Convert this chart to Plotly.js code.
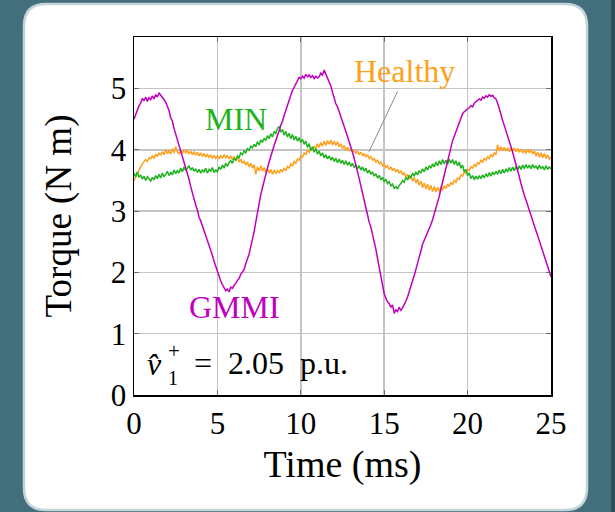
<!DOCTYPE html>
<html>
<head>
<meta charset="utf-8">
<script src="https://cdn.plot.ly/plotly-3.0.1.min.js"></script>
<style>html,body{margin:0;padding:0;background:#426f7b;}#chart{width:615px;height:512px;}</style>
</head>
<body>
<div id="chart"></div>
<script>
// sample spacing of the traces (ms)
const dt = 0.1;

const gmmi = [
4.50,4.58,4.63,4.72,4.76,4.84,4.80,4.86,4.79,4.85,
4.82,4.88,4.83,4.90,4.86,4.93,4.89,4.86,4.82,4.78,
4.70,4.64,4.52,4.47,4.35,4.26,4.15,4.08,3.97,3.91,
3.80,3.72,3.62,3.52,3.40,3.29,3.20,3.10,3.02,2.90,
2.84,2.76,2.68,2.60,2.52,2.46,2.35,2.28,2.18,2.10,
2.01,1.92,1.86,1.80,1.74,1.70,1.73,1.68,1.76,1.74,
1.79,1.82,1.87,1.90,1.97,2.01,2.05,2.14,2.22,2.30,
2.42,2.52,2.66,2.82,2.98,3.15,3.27,3.38,3.50,3.61,
3.70,3.80,3.90,3.99,4.07,4.15,4.22,4.31,4.40,4.46,
4.56,4.64,4.72,4.80,4.90,4.97,5.02,5.08,5.13,5.18,
5.16,5.20,5.17,5.23,5.19,5.22,5.18,5.21,5.16,5.20,
5.17,5.19,5.25,5.22,5.30,5.24,5.18,5.12,5.04,4.94,
4.84,4.75,4.70,4.61,4.55,4.45,4.38,4.30,4.22,4.14,
4.04,3.96,3.86,3.77,3.64,3.53,3.40,3.28,3.17,3.05,
2.94,2.82,2.74,2.62,2.52,2.38,2.23,2.08,1.94,1.80,
1.65,1.58,1.52,1.49,1.43,1.47,1.33,1.39,1.36,1.43,
1.38,1.42,1.47,1.53,1.60,1.68,1.78,1.87,1.95,2.05,
2.14,2.24,2.35,2.46,2.52,2.58,2.64,2.70,2.78,2.86,
2.95,3.03,3.12,3.24,3.36,3.48,3.58,3.70,3.82,3.95,
4.05,4.15,4.22,4.30,4.38,4.46,4.53,4.59,4.62,4.64,
4.66,4.69,4.72,4.70,4.76,4.78,4.80,4.83,4.81,4.86,
4.84,4.88,4.86,4.90,4.87,4.89,4.85,4.83,4.76,4.68,
4.58,4.48,4.40,4.31,4.22,4.13,4.05,3.96,3.87,3.78,
3.67,3.56,3.45,3.34,3.26,3.18,3.09,3.01,2.93,2.85,
2.77,2.68,2.60,2.52,2.43,2.34,2.26,2.18,2.10,2.02,
1.93];

const minTorque = [
3.62,3.56,3.64,3.55,3.59,3.52,3.57,3.50,3.56,3.53,
3.49,3.55,3.51,3.58,3.53,3.60,3.54,3.62,3.56,3.60,
3.65,3.58,3.63,3.59,3.67,3.61,3.66,3.62,3.70,3.64,
3.72,3.66,3.70,3.74,3.67,3.71,3.65,3.69,3.63,3.68,
3.62,3.67,3.64,3.70,3.62,3.68,3.65,3.71,3.63,3.67,
3.64,3.72,3.68,3.75,3.70,3.78,3.73,3.79,3.82,3.78,
3.86,3.83,3.90,3.87,3.95,3.92,3.98,3.95,4.02,3.99,
4.06,4.03,4.09,4.05,4.13,4.08,4.16,4.12,4.19,4.15,
4.23,4.18,4.26,4.21,4.30,4.27,4.35,4.38,4.29,4.33,
4.24,4.30,4.21,4.27,4.18,4.25,4.16,4.22,4.14,4.20,
4.12,4.17,4.09,4.14,4.04,4.10,3.99,4.05,3.96,4.02,
3.93,3.98,3.90,3.95,3.87,3.92,3.85,3.90,3.83,3.88,
3.81,3.86,3.79,3.85,3.78,3.83,3.76,3.82,3.75,3.80,
3.73,3.78,3.71,3.76,3.69,3.74,3.67,3.72,3.65,3.70,
3.62,3.67,3.60,3.64,3.57,3.61,3.54,3.58,3.51,3.55,
3.48,3.52,3.45,3.48,3.41,3.44,3.37,3.40,3.36,3.42,
3.45,3.50,3.47,3.55,3.51,3.58,3.54,3.62,3.57,3.64,
3.59,3.66,3.62,3.69,3.64,3.72,3.67,3.74,3.70,3.77,
3.72,3.80,3.74,3.82,3.76,3.84,3.77,3.83,3.76,3.85,
3.78,3.84,3.76,3.82,3.74,3.80,3.70,3.75,3.64,3.68,
3.58,3.62,3.53,3.58,3.51,3.57,3.52,3.58,3.53,3.59,
3.54,3.61,3.56,3.63,3.57,3.64,3.59,3.65,3.60,3.67,
3.61,3.68,3.62,3.69,3.64,3.71,3.65,3.72,3.66,3.73,
3.67,3.74,3.68,3.75,3.69,3.76,3.70,3.75,3.69,3.76,
3.70,3.74,3.68,3.75,3.69,3.73,3.67,3.74,3.68,3.72,
3.69];

const healthy = [
3.50,3.56,3.62,3.68,3.72,3.77,3.80,3.84,3.81,3.87,
3.85,3.90,3.86,3.93,3.89,3.95,3.91,3.97,3.92,4.00,
3.94,3.98,3.93,4.02,3.95,4.05,3.97,3.93,3.99,3.94,
4.00,3.95,3.99,3.93,3.98,3.92,3.97,3.91,3.96,3.90,
3.95,3.89,3.94,3.88,3.93,3.87,3.92,3.86,3.91,3.86,
3.90,3.85,3.91,3.86,3.92,3.87,3.91,3.85,3.90,3.84,
3.89,3.83,3.87,3.80,3.85,3.78,3.82,3.75,3.80,3.72,
3.78,3.70,3.76,3.60,3.72,3.66,3.74,3.65,3.71,3.63,
3.69,3.62,3.68,3.60,3.67,3.61,3.66,3.62,3.68,3.64,
3.70,3.66,3.73,3.70,3.77,3.74,3.81,3.78,3.85,3.83,
3.90,3.88,3.95,3.92,3.99,3.96,4.03,3.99,4.06,4.02,
4.10,4.04,4.12,4.06,4.14,4.07,4.15,4.09,4.16,4.08,
4.14,4.07,4.13,4.05,4.10,4.02,4.07,3.99,4.04,3.98,
4.02,3.96,4.00,3.94,3.98,3.92,3.96,3.90,3.94,3.88,
3.92,3.86,3.89,3.83,3.86,3.80,3.83,3.77,3.80,3.74,
3.77,3.71,3.74,3.68,3.72,3.66,3.70,3.64,3.68,3.62,
3.66,3.59,3.63,3.55,3.60,3.52,3.57,3.49,3.55,3.46,
3.52,3.42,3.49,3.38,3.46,3.36,3.44,3.34,3.42,3.32,
3.40,3.31,3.39,3.32,3.40,3.34,3.41,3.37,3.44,3.40,
3.47,3.43,3.50,3.47,3.54,3.52,3.59,3.57,3.64,3.62,
3.68,3.66,3.72,3.70,3.76,3.73,3.79,3.77,3.83,3.80,
3.86,3.83,3.89,3.86,3.92,3.89,3.95,3.92,4.08,3.98,
4.05,3.99,4.04,3.98,4.03,3.97,4.04,3.98,4.03,3.97,
4.02,3.96,4.01,3.95,4.00,3.94,4.01,3.95,4.00,3.93,
3.98,3.90,3.96,3.88,3.95,3.87,3.94,3.86,3.92,3.85,
3.88];

const xTicks = [0, 5, 10, 15, 20, 25];
const yTicks = [0, 1, 2, 3, 4, 5];
const seriesNames = ["Healthy", "MIN", "GMMI"];
const seriesColors = ["#ffa01c", "#1db31d", "#c000c0"];

const time = gmmi.map((_, i) => +(i * dt).toFixed(2));

const W = 615, H = 512;
const M = {l: 134, r: 64, t: 37, b: 117};
const pw = W - M.l - M.r, ph = H - M.t - M.b;
const px = x => (x - M.l) / pw;
const py = y => (H - M.b - y) / ph;

function roundRect(x0, y0, x1, y1, r) {
  const X = px, Y = py;
  const rx = r / pw, ry = r / ph;
  return `M ${X(x0)+rx} ${Y(y0)} L ${X(x1)-rx} ${Y(y0)} Q ${X(x1)} ${Y(y0)} ${X(x1)} ${Y(y0)-ry} ` +
         `L ${X(x1)} ${Y(y1)+ry} Q ${X(x1)} ${Y(y1)} ${X(x1)-rx} ${Y(y1)} ` +
         `L ${X(x0)+rx} ${Y(y1)} Q ${X(x0)} ${Y(y1)} ${X(x0)} ${Y(y1)+ry} ` +
         `L ${X(x0)} ${Y(y0)-ry} Q ${X(x0)} ${Y(y0)} ${X(x0)+rx} ${Y(y0)} Z`;
}

const series = [healthy, minTorque, gmmi];
const traces = series.map((s, k) => ({
  x: time, y: s, type: "scatter", mode: "lines", name: seriesNames[k],
  line: {color: seriesColors[k], width: 1.5}, hoverinfo: "skip"
}));

const serif = "Liberation Serif";

const layout = {
  width: W, height: H,
  margin: M,
  paper_bgcolor: "#426f7b",
  plot_bgcolor: "white",
  showlegend: false,
  font: {family: serif, color: "black"},
  xaxis: {
    range: [0, 25], tickvals: xTicks, ticktext: xTicks.map(String),
    showgrid: true, gridcolor: "#c4c4c4", gridwidth: 1.5,
    showline: true, linecolor: "black", linewidth: 1.5, mirror: "ticks",
    ticks: "inside", ticklen: 5, tickcolor: "#707070", tickwidth: 1,
    tickfont: {size: 31, family: serif}, zeroline: false,
    title: {text: "Time (ms)", font: {size: 38, family: serif}, standoff: 10}
  },
  yaxis: {
    range: [0, 5.84], tickvals: yTicks, ticktext: yTicks.map(String),
    showgrid: true, gridcolor: "#c4c4c4", gridwidth: 1.5,
    showline: true, linecolor: "black", linewidth: 1.5, mirror: "ticks",
    ticks: "inside", ticklen: 5, tickcolor: "#707070", tickwidth: 1,
    tickfont: {size: 31, family: serif}, zeroline: false,
    title: {text: "Torque (N m)", font: {size: 37, family: serif}, standoff: 28}
  },
  shapes: [
    {type: "path", xref: "paper", yref: "paper", layer: "below",
     path: roundRect(24, 4, 587, 510, 22),
     fillcolor: "white", line: {color: "#c3d3d8", width: 2.5}},
    {type: "rect", xref: "paper", yref: "paper", layer: "below",
     x0: px(611), x1: px(615), y0: py(0), y1: py(512),
     fillcolor: "#2b4e58", line: {width: 0}},
    {type: "line", xref: "x", yref: "y", x0: 15.8, y0: 4.95, x1: 14.09, y1: 3.97,
     line: {color: "#8c8c8c", width: 1}}
  ],
  annotations: [
    {x: 16.2, y: 5.28, xref: "x", yref: "y", text: "Healthy", showarrow: false,
     font: {size: 32, color: seriesColors[0], family: serif}},
    {x: 6.1, y: 4.51, xref: "x", yref: "y", text: "MIN", showarrow: false,
     font: {size: 32, color: seriesColors[1], family: serif}},
    {x: 6.03, y: 1.43, xref: "x", yref: "y", text: "GMMI", showarrow: false,
     font: {size: 32, color: seriesColors[2], family: serif}},
    {x: 1.25, y: 0.5, xref: "x", yref: "y", text: "<i>v̂</i>", showarrow: false,
     font: {size: 32, color: "black", family: serif}},
    {x: 2.4, y: 0.72, xref: "x", yref: "y", text: "+", showarrow: false,
     font: {size: 21, color: "black", family: serif}},
    {x: 2.34, y: 0.27, xref: "x", yref: "y", text: "1", showarrow: false,
     font: {size: 20, color: "black", family: serif}},
    {x: 3.45, y: 0.52, xref: "x", yref: "y", xanchor: "left",
     text: "=\u00A0\u00A02.05\u00A0\u00A0p.u.", showarrow: false,
     font: {size: 32, color: "black", family: serif}}
  ]
};

Plotly.newPlot("chart", traces, layout, {displayModeBar: false, staticPlot: true});
</script>
</body>
</html>
